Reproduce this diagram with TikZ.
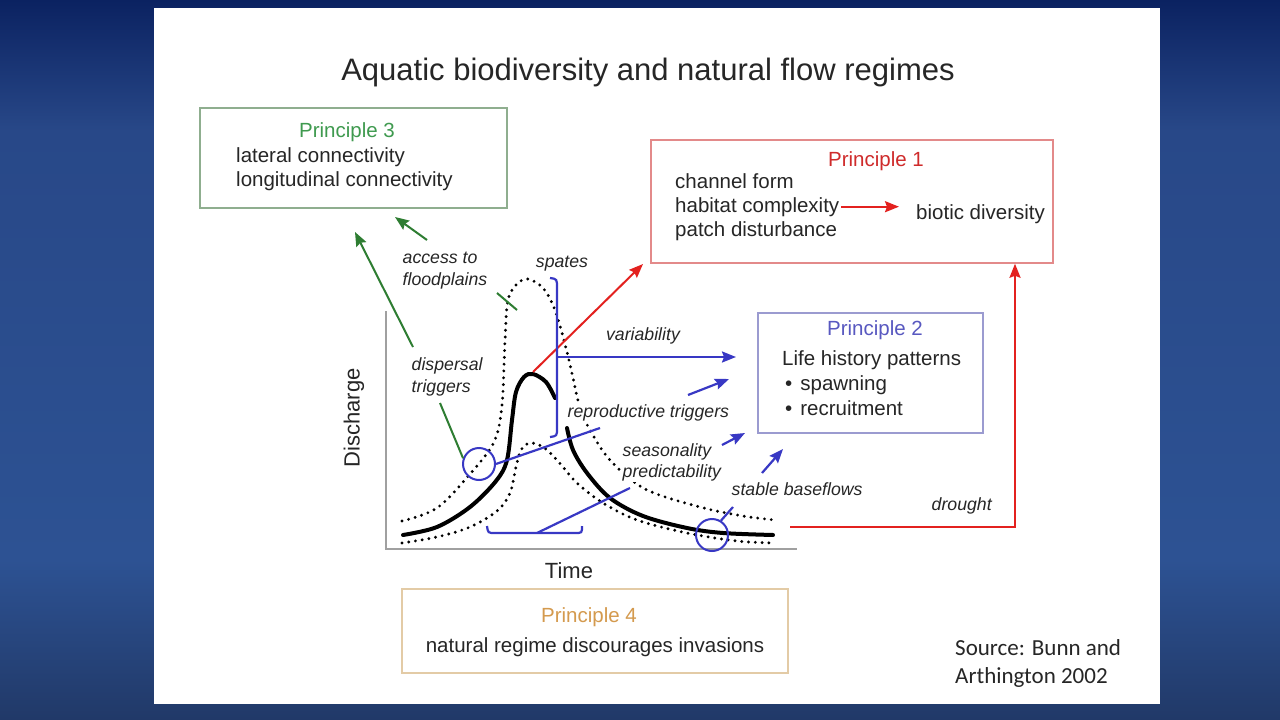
\documentclass[tikz,border=0pt]{standalone}
\usepackage{fontspec}
\setmainfont{Liberation Sans}
\newfontfamily\calib{Carlito}
\usetikzlibrary{arrows.meta}
\definecolor{bgA}{HTML}{0B2261}
\definecolor{bgB}{HTML}{284888}
\definecolor{bgC}{HTML}{2D5293}
\definecolor{bgD}{HTML}{213968}
\definecolor{txtc}{HTML}{262626}
\definecolor{pthreeb}{HTML}{8FAE8F}
\definecolor{pthreet}{HTML}{3F9A4F}
\definecolor{poneb}{HTML}{E38A8A}
\definecolor{ponet}{HTML}{CF2B2B}
\definecolor{ptwob}{HTML}{9B9BD0}
\definecolor{ptwot}{HTML}{5858C0}
\definecolor{pfourb}{HTML}{E3CBA6}
\definecolor{pfourt}{HTML}{D49A4E}
\definecolor{blueL}{HTML}{3838C4}
\definecolor{greenL}{HTML}{2E7D32}
\definecolor{redL}{HTML}{E3211F}
\definecolor{axisc}{HTML}{A0A0A0}
\begin{document}
\begin{tikzpicture}[x=1pt,y=-1pt,
  txt/.style={inner sep=0pt, text=txtc, font=\fontsize{20.5}{24}\selectfont},
  lab/.style={inner sep=1.5pt, text=txtc, font=\fontsize{17.7}{20}\selectfont\itshape},
  box/.style={line width=1.5pt, minimum width=#1, inner sep=0pt},
  ahead/.style={-{Stealth[length=14pt,width=11pt,inset=2pt]}},
  bl/.style={draw=blueL, line width=2.2pt},
  gl/.style={draw=greenL, line width=2pt},
  rl/.style={draw=redL, line width=2pt},
  dots/.style={line width=3.2pt, line cap=round, dash pattern=on 0pt off 6.8pt},
  solidc/.style={line width=4pt, line cap=round}
]
\useasboundingbox (0,0) rectangle (1280,720);
% background
\shade[top color=bgA, bottom color=bgB] (0,0) rectangle (1280,131);
\shade[top color=bgB, bottom color=bgC] (0,130) rectangle (1280,561);
\shade[top color=bgC, bottom color=bgD] (0,560) rectangle (1280,720);
\fill[white] (154,8) rectangle (1160,704);

% title
\node[inner sep=0pt, anchor=base, text=txtc, font=\fontsize{31}{36}\selectfont] (title) at (648,80) {Aquatic biodiversity and natural flow regimes};

% boxes
\node[box=307pt, minimum height=100pt, draw=pthreeb] (box3) at (353.5,158) {};
\node[box=402pt, minimum height=123pt, draw=poneb] (box1) at (852,201.5) {};
\node[box=225pt, minimum height=120pt, draw=ptwob] (box2) at (870.5,373) {};
\node[box=386pt, minimum height=84pt, draw=pfourb] (box4) at (595,631) {};

% Principle 3
\node[txt, text=pthreet, anchor=base] (p3) at (347,137) {Principle 3};
\node[txt, anchor=base west] (lat) at (236,162) {lateral connectivity};
\node[txt, anchor=base west] (lon) at (236,186) {longitudinal connectivity};

% Principle 1
\node[txt, text=ponet, anchor=base] (p1) at (876,166) {Principle 1};
\node[txt, anchor=base west] (chf) at (675,188) {channel form};
\node[txt, anchor=base west] (hab) at (675,212) {habitat complexity};
\node[txt, anchor=base west] (pat) at (675,236) {patch disturbance};
\node[txt, anchor=base west] (bio) at (916,219) {biotic diversity};
\draw[rl, ahead] ([xshift=2pt]hab.east) -- ([xshift=-17pt]hab.east -| bio.west);

% Principle 2
\node[txt, text=ptwot, anchor=base] (p2) at (875,335) {Principle 2};
\node[txt, anchor=base west] (lhp) at (782,365) {Life history patterns};
\node[txt, anchor=base west] (spw) at (785,390) {\textbullet\hspace{8pt}spawning};
\node[txt, anchor=base west] (rec) at (785,415) {\textbullet\hspace{8pt}recruitment};

% Principle 4
\node[txt, text=pfourt, anchor=base] (p4) at (589,622) {Principle 4};
\node[txt, anchor=base] (nat) at (595,652) {natural regime discourages invasions};

% source
\node[inner sep=0pt, anchor=base west, text=txtc, font=\calib\fontsize{23}{28}\selectfont] (src1) at (955,655) {Source: Bunn and};
\node[inner sep=0pt, anchor=base west, text=txtc, font=\calib\fontsize{23}{28}\selectfont] (src2) at (955,683) {Arthington 2002};

% axes
\coordinate (orig) at (386,549);
\coordinate (ytop) at (386,311);
\coordinate (xend) at (797,549);
\draw[axisc, line width=2pt] (ytop) -- (orig) -- (xend);
\node[inner sep=0pt, text=txtc, rotate=90, font=\fontsize{22}{26}\selectfont] (dis) at (354,418) {Discharge};
\node[inner sep=0pt, anchor=base, text=txtc, font=\fontsize{22}{26}\selectfont] (time) at (569,578) {Time};

% curves
\draw[dots] plot[smooth, tension=0.55] coordinates {(402,521) (437,508) (470,474) (494,442) (502,405) (505,340) (508,300) (517,284) (528,279) (543,288) (555,310) (566,348) (573,378) (580,408) (590,430) (610,460) (645,489) (700,507) (743,516) (775,520)};
\draw[dots] plot[smooth, tension=0.55] coordinates {(402,543) (437,537) (470,527) (497,511) (510,493) (516,467) (521,450) (530,443) (543,447) (557,460) (577,483) (603,503) (637,520) (687,533) (737,541) (775,543)};
\draw[solidc] plot[smooth, tension=0.55] coordinates {(403,535) (437,527) (470,507) (496,481) (507,460) (512,420) (516,392) (524,377) (533,374) (546,382) (555,398)};
\draw[solidc] plot[smooth, tension=0.55] coordinates {(567,428) (573,450) (587,473) (610,498) (643,516) (687,528) (723,533) (773,535)};

% labels with white background
\node[lab, fill=white, anchor=base west] (rep) at (566,417) {reproductive triggers};
\node[lab, fill=white, anchor=base west, align=left, font=\fontsize{17.7}{21}\selectfont\itshape] (sea) at (621,477) {seasonality\\predictability};
\node[lab, anchor=base west] (sbf) at (730,495) {stable baseflows};
\node[lab, anchor=base west] (dro) at (930,510) {drought};
\node[lab, anchor=base] (spa) at (562,267) {spates};
\node[lab, anchor=base] (var) at (643,340) {variability};
\node[lab, anchor=base west, align=left, font=\fontsize{17.7}{22}\selectfont\itshape] (acc) at (401,285) {access to\\floodplains};
\node[lab, anchor=base west, align=left, font=\fontsize{17.7}{22}\selectfont\itshape] (dsp) at (410,392) {dispersal\\triggers};

% circles
\node[draw=blueL, circle, line width=2pt, minimum size=32pt, inner sep=0pt] (c1) at (479,464) {};
\node[draw=blueL, circle, line width=2pt, minimum size=32pt, inner sep=0pt] (c2) at (712,535) {};

% green
\coordinate (fl1) at (497,293);
\coordinate (fl2) at (517,310);
\draw[gl] (fl1) -- (fl2);
\coordinate (ga1) at (427,240);
\coordinate (ga2) at (395,217);
\draw[gl, ahead] (ga1) -- (ga2);
\coordinate (gb1) at (413,347);
\coordinate (gb2) at (355,232);
\draw[gl, ahead] (gb1) -- (gb2);
\coordinate (gc1) at (440,403);
\draw[gl] (gc1) -- (c1.160);

% red
\coordinate (ra1) at (533,372);
\coordinate (ra2) at (643,264);
\draw[rl, ahead] (ra1) -- (ra2);
\coordinate (dr1) at (790,527);
\coordinate (dr2) at (1015,527);
\draw[rl, ahead] (dr1) -- (dr2) -- (dr2 |- box1.south);

% blue
\draw[bl] (550,278) .. controls (557,279) .. (557,288) -- (557,428) .. controls (557,436) .. (550,437);
\coordinate (va1) at (557,357);
\coordinate (va2) at (736,357);
\draw[bl, ahead] (va1) -- (va2);
\coordinate (rt1) at (688,395);
\coordinate (rt2) at (729,379);
\draw[bl, ahead] (rt1) -- (rt2);
\coordinate (se1) at (722,445);
\coordinate (se2) at (745,433);
\draw[bl, ahead] (se1) -- (se2);
\coordinate (sb1) at (762,473);
\coordinate (sb2) at (783,449);
\draw[bl, ahead] (sb1) -- (sb2);
\coordinate (cl1) at (600,428);
\draw[bl] (c1.east) -- (cl1);
\coordinate (sbl) at (733,507);
\draw[bl] (c2.58) -- (sbl);
\draw[bl] (487,526) .. controls (488,533) .. (495,533) -- (575,533) .. controls (582,533) .. (582,526);
\coordinate (pr1) at (630,488);
\coordinate (pr2) at (537,533);
\draw[bl] (pr1) -- (pr2);
\end{tikzpicture}
\end{document}
